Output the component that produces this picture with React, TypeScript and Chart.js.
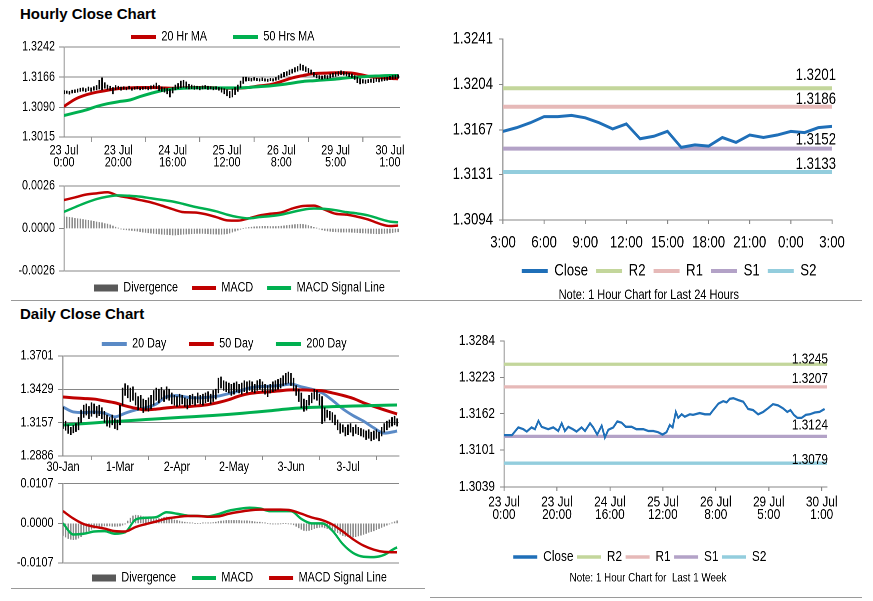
import React, { useEffect, useRef } from 'react';
import { Chart, registerables } from 'chart.js';

Chart.register(...registerables);

const FONT = "'Liberation Sans', Arial, sans-serif";
Chart.defaults.font.family = FONT;
Chart.defaults.color = '#000';

// ---------------- Hourly (last week) ----------------
const hourTickIdx = [0, 20, 40, 60, 80, 100, 120];
const hourTickLabels = [['23 Jul', '0:00'], ['23 Jul', '20:00'], ['24 Jul', '16:00'], ['25 Jul', '12:00'], ['26 Jul', '8:00'], ['29 Jul', '5:00'], ['30 Jul', '1:00']];

const hourlyLow = [
  1.3124, 1.3125, 1.3123, 1.3126, 1.3127, 1.3128, 1.3130, 1.3131, 1.3129, 1.3132,
  1.3130, 1.3133, 1.3134, 1.3136, 1.3134, 1.3138, 1.3135, 1.3133, 1.3124, 1.3134,
  1.3136, 1.3133, 1.3135, 1.3134, 1.3136, 1.3133, 1.3135, 1.3136, 1.3134, 1.3135,
  1.3136, 1.3134, 1.3136, 1.3138, 1.3137, 1.3132, 1.3130, 1.3128, 1.3124, 1.3116,
  1.3126, 1.3134, 1.3137, 1.3139, 1.3140, 1.3138, 1.3136, 1.3137, 1.3135, 1.3136,
  1.3134, 1.3136, 1.3137, 1.3135, 1.3136, 1.3134, 1.3135, 1.3133, 1.3128, 1.3124,
  1.3119, 1.3114, 1.3116, 1.3122, 1.3130, 1.3140, 1.3150, 1.3156, 1.3157, 1.3156,
  1.3158, 1.3157, 1.3156, 1.3157, 1.3156, 1.3155, 1.3157, 1.3156, 1.3158, 1.3160,
  1.3164, 1.3167, 1.3170, 1.3172, 1.3176, 1.3179, 1.3181, 1.3184, 1.3183, 1.3180,
  1.3177, 1.3174, 1.3168, 1.3164, 1.3162, 1.3161, 1.3163, 1.3162, 1.3164, 1.3166,
  1.3168, 1.3170, 1.3172, 1.3171, 1.3169, 1.3167, 1.3165, 1.3160, 1.3152, 1.3149,
  1.3151, 1.3150, 1.3152, 1.3153, 1.3152, 1.3155, 1.3154, 1.3156, 1.3157, 1.3158,
  1.3160, 1.3161, 1.3162, 1.3163,
];
const hourlyHigh = [
  1.3132, 1.3131, 1.3130, 1.3133, 1.3134, 1.3136, 1.3138, 1.3139, 1.3137, 1.3141,
  1.3139, 1.3142, 1.3145, 1.3158, 1.3164, 1.3152, 1.3146, 1.3143, 1.3140, 1.3145,
  1.3143, 1.3141, 1.3142, 1.3140, 1.3143, 1.3139, 1.3141, 1.3142, 1.3140, 1.3141,
  1.3142, 1.3141, 1.3144, 1.3146, 1.3151, 1.3145, 1.3141, 1.3139, 1.3137, 1.3135,
  1.3140, 1.3146, 1.3150, 1.3156, 1.3158, 1.3154, 1.3148, 1.3146, 1.3144, 1.3143,
  1.3142, 1.3144, 1.3145, 1.3143, 1.3142, 1.3141, 1.3142, 1.3140, 1.3139, 1.3137,
  1.3134, 1.3130, 1.3136, 1.3140, 1.3146, 1.3156, 1.3166, 1.3166, 1.3164, 1.3163,
  1.3165, 1.3163, 1.3162, 1.3164, 1.3162, 1.3161, 1.3163, 1.3162, 1.3165, 1.3170,
  1.3174, 1.3178, 1.3180, 1.3184, 1.3186, 1.3190, 1.3193, 1.3199, 1.3196, 1.3192,
  1.3188, 1.3184, 1.3178, 1.3172, 1.3170, 1.3169, 1.3171, 1.3170, 1.3174, 1.3176,
  1.3178, 1.3180, 1.3182, 1.3180, 1.3178, 1.3176, 1.3174, 1.3170, 1.3166, 1.3162,
  1.3160, 1.3159, 1.3160, 1.3161, 1.3162, 1.3163, 1.3162, 1.3164, 1.3165, 1.3166,
  1.3168, 1.3170, 1.3171, 1.3172,
];

const hourLineX = [0, 4, 8, 12, 16, 20, 24, 28, 32, 36, 40, 44, 48, 52, 56, 60, 64, 68, 72, 76, 80, 84, 88, 92, 96, 100, 104, 108, 112, 116, 120, 123];
const ma20Hr = [1.3092, 1.3110, 1.3121, 1.3128, 1.3133, 1.3137, 1.3139, 1.3140, 1.3140, 1.3139, 1.3138, 1.3139, 1.3140, 1.3140, 1.3139, 1.3138, 1.3138, 1.3140, 1.3144, 1.3147, 1.3155, 1.3164, 1.3170, 1.3175, 1.3176, 1.3177, 1.3177, 1.3174, 1.3168, 1.3165, 1.3163, 1.3162];
const ma50Hr = [1.3069, 1.3076, 1.3083, 1.3092, 1.3099, 1.3104, 1.3108, 1.3117, 1.3125, 1.3132, 1.3136, 1.3138, 1.3139, 1.3139, 1.3139, 1.3139, 1.3139, 1.3140, 1.3142, 1.3144, 1.3147, 1.3151, 1.3155, 1.3157, 1.3159, 1.3161, 1.3164, 1.3166, 1.3168, 1.3169, 1.3170, 1.3170];
const macdHour = [0.00174, 0.00190, 0.00207, 0.00215, 0.00222, 0.00200, 0.00188, 0.00174, 0.00160, 0.00140, 0.00118, 0.00100, 0.00098, 0.00088, 0.00070, 0.00050, 0.00048, 0.00062, 0.00080, 0.00090, 0.00098, 0.00122, 0.00138, 0.00140, 0.00115, 0.00090, 0.00085, 0.00072, 0.00055, 0.00030, 0.00015, 0.00018];
const signalHour = [0.00102, 0.00130, 0.00157, 0.00180, 0.00195, 0.00203, 0.00200, 0.00195, 0.00185, 0.00175, 0.00165, 0.00150, 0.00133, 0.00120, 0.00105, 0.00085, 0.00070, 0.00062, 0.00070, 0.00076, 0.00085, 0.00100, 0.00115, 0.00122, 0.00120, 0.00112, 0.00100, 0.00092, 0.00080, 0.00060, 0.00042, 0.00038];
const divergenceHour = [
  0.00072, 0.00070, 0.00068, 0.00066, 0.00062, 0.00060, 0.00058, 0.00055, 0.00052, 0.00050,
  0.00047, 0.00044, 0.00040, 0.00037, 0.00035, 0.00030, 0.00027, 0.00022, 0.00015, 0.00008,
  0.00002, -0.00003, -0.00006, -0.00008, -0.00010, -0.00012, -0.00014, -0.00016, -0.00019, -0.00022,
  -0.00024, -0.00026, -0.00028, -0.00030, -0.00032, -0.00033, -0.00035, -0.00036, -0.00037, -0.00038,
  -0.00040, -0.00040, -0.00038, -0.00036, -0.00035, -0.00034, -0.00033, -0.00032, -0.00031, -0.00030,
  -0.00030, -0.00030, -0.00031, -0.00032, -0.00033, -0.00034, -0.00034, -0.00035, -0.00035, -0.00034,
  -0.00032, -0.00028, -0.00022, -0.00016, -0.00010, -0.00005, 0.00000, 0.00003, 0.00006, 0.00008,
  0.00010, 0.00011, 0.00012, 0.00013, 0.00013, 0.00013, 0.00012, 0.00012, 0.00012, 0.00013,
  0.00014, 0.00016, 0.00018, 0.00020, 0.00022, 0.00024, 0.00025, 0.00026, 0.00025, 0.00022,
  0.00018, 0.00013, 0.00007, 0.00002, -0.00003, -0.00008, -0.00012, -0.00015, -0.00017, -0.00019,
  -0.00020, -0.00021, -0.00022, -0.00022, -0.00022, -0.00022, -0.00023, -0.00024, -0.00025, -0.00026,
  -0.00027, -0.00028, -0.00029, -0.00030, -0.00031, -0.00032, -0.00032, -0.00031, -0.00030, -0.00029,
  -0.00027, -0.00025, -0.00022, -0.00020,
];

// ---------------- Daily ----------------
const dayTickIdx = [0, 22, 44, 66, 88, 110];
const dayTickLabels = ['30-Jan', '1-Mar', '2-Apr', '2-May', '3-Jun', '3-Jul'];

const dailyLow = [
  1.3110, 1.3095, 1.3070, 1.3060, 1.3075, 1.3085, 1.3100, 1.3160, 1.3200, 1.3220,
  1.3190, 1.3210, 1.3230, 1.3200, 1.3215, 1.3190, 1.3160, 1.3130, 1.3120, 1.3140,
  1.3110, 1.3100, 1.3140, 1.3300, 1.3380, 1.3360, 1.3330, 1.3340, 1.3300, 1.3260,
  1.3280, 1.3240, 1.3260, 1.3250, 1.3270, 1.3300, 1.3340, 1.3320, 1.3350, 1.3330,
  1.3350, 1.3340, 1.3310, 1.3300, 1.3290, 1.3300, 1.3310, 1.3290, 1.3270, 1.3300,
  1.3310, 1.3300, 1.3320, 1.3310, 1.3300, 1.3320, 1.3330, 1.3310, 1.3330, 1.3350,
  1.3400, 1.3440, 1.3420, 1.3410, 1.3400, 1.3380, 1.3390, 1.3410, 1.3400, 1.3390,
  1.3410, 1.3400, 1.3420, 1.3410, 1.3400, 1.3420, 1.3430, 1.3410, 1.3390, 1.3370,
  1.3400, 1.3410, 1.3420, 1.3430, 1.3440, 1.3460, 1.3470, 1.3480, 1.3460, 1.3420,
  1.3380, 1.3330, 1.3280, 1.3250, 1.3260, 1.3300, 1.3320, 1.3350, 1.3340, 1.3300,
  1.3150, 1.3170, 1.3200, 1.3180, 1.3160, 1.3140, 1.3100, 1.3070, 1.3080, 1.3050,
  1.3060, 1.3080, 1.3050, 1.3070, 1.3060, 1.3050, 1.3040, 1.3020, 1.3030, 1.3010,
  1.3020, 1.3030, 1.3010, 1.3050, 1.3080, 1.3100, 1.3120, 1.3130, 1.3140, 1.3130,
];
const dailyHigh = [
  1.3285, 1.3170, 1.3140, 1.3120, 1.3135, 1.3150, 1.3200, 1.3260, 1.3300, 1.3310,
  1.3290, 1.3320, 1.3310, 1.3290, 1.3300, 1.3280, 1.3250, 1.3220, 1.3200, 1.3220,
  1.3190, 1.3180, 1.3300, 1.3440, 1.3475, 1.3460, 1.3440, 1.3450, 1.3400, 1.3370,
  1.3380, 1.3350, 1.3340, 1.3360, 1.3380, 1.3420, 1.3440, 1.3430, 1.3445, 1.3420,
  1.3450, 1.3430, 1.3400, 1.3380, 1.3370, 1.3390, 1.3380, 1.3360, 1.3350, 1.3380,
  1.3390, 1.3370, 1.3400, 1.3380, 1.3390, 1.3400, 1.3410, 1.3390, 1.3420, 1.3430,
  1.3520, 1.3530, 1.3500, 1.3490, 1.3480, 1.3470, 1.3480, 1.3490, 1.3470, 1.3480,
  1.3500, 1.3490, 1.3500, 1.3490, 1.3470, 1.3500, 1.3510, 1.3490, 1.3470, 1.3460,
  1.3470, 1.3490, 1.3500, 1.3510, 1.3520, 1.3540, 1.3560, 1.3570, 1.3560, 1.3520,
  1.3460, 1.3430, 1.3400, 1.3350, 1.3340, 1.3380, 1.3400, 1.3430, 1.3420, 1.3390,
  1.3370, 1.3280, 1.3260, 1.3250, 1.3240, 1.3220, 1.3180, 1.3150, 1.3140, 1.3120,
  1.3140, 1.3150, 1.3120, 1.3140, 1.3120, 1.3110, 1.3100, 1.3090, 1.3100, 1.3080,
  1.3090, 1.3100, 1.3080, 1.3120, 1.3150, 1.3170, 1.3180, 1.3200, 1.3210, 1.3190,
];

const dayLineX = [0, 4, 8, 12, 16, 20, 24, 28, 32, 36, 40, 44, 48, 52, 56, 60, 64, 68, 72, 76, 80, 84, 88, 92, 96, 100, 104, 108, 112, 116, 120, 124, 128, 129];
const ma20Day = [1.3285, 1.3245, 1.3240, 1.3245, 1.3235, 1.3205, 1.3235, 1.3262, 1.3280, 1.3310, 1.3370, 1.3378, 1.3365, 1.3360, 1.3365, 1.3375, 1.3395, 1.3415, 1.3440, 1.3452, 1.3455, 1.3462, 1.3472, 1.3450, 1.3430, 1.3400, 1.3340, 1.3270, 1.3215, 1.3170, 1.3115, 1.3072, 1.3085, 1.3090];
const ma50Day = [1.3367, 1.3360, 1.3355, 1.3350, 1.3335, 1.3320, 1.3295, 1.3275, 1.3262, 1.3268, 1.3278, 1.3285, 1.3288, 1.3295, 1.3305, 1.3322, 1.3345, 1.3375, 1.3395, 1.3405, 1.3410, 1.3418, 1.3425, 1.3425, 1.3422, 1.3418, 1.3400, 1.3380, 1.3355, 1.3320, 1.3290, 1.3262, 1.3235, 1.3228];
const ma200DayX = [0, 8, 16, 24, 32, 40, 48, 56, 64, 72, 80, 88, 96, 104, 112, 120, 129];
const ma200Day = [1.3139, 1.3150, 1.3162, 1.3172, 1.3183, 1.3194, 1.3204, 1.3214, 1.3225, 1.3240, 1.3255, 1.3272, 1.3282, 1.3288, 1.3293, 1.3298, 1.3302];
const macdDay = [0.0000, -0.0030, -0.0028, -0.0022, -0.0021, -0.0028, -0.0024, 0.0010, 0.0015, 0.0017, 0.0030, 0.0026, 0.0021, 0.0020, 0.0019, 0.0025, 0.0034, 0.0039, 0.0042, 0.0040, 0.0033, 0.0033, 0.0033, 0.0012, 0.0000, 0.0000, -0.0020, -0.0056, -0.0080, -0.0090, -0.0091, -0.0085, -0.0068, -0.0065];
const signalDay = [0.0033, 0.0013, -0.0002, -0.0009, -0.0014, -0.0021, -0.0022, -0.0010, -0.0002, 0.0005, 0.0013, 0.0017, 0.0020, 0.0020, 0.0018, 0.0019, 0.0026, 0.0031, 0.0035, 0.0037, 0.0037, 0.0037, 0.0035, 0.0026, 0.0016, 0.0009, -0.0003, -0.0022, -0.0043, -0.0060, -0.0071, -0.0077, -0.0078, -0.0078];
const divergenceDay = [
  -0.0033, -0.0037, -0.0041, -0.0043, -0.0044, -0.0043, -0.0040, -0.0036, -0.0030, -0.0025,
  -0.0020, -0.0016, -0.0013, -0.0011, -0.0009, -0.0008, -0.0007, -0.0007, -0.0007, -0.0008,
  -0.0008, -0.0008, -0.0007, -0.0005, -0.0002, 0.0006, 0.0014, 0.0020, 0.0022, 0.0021,
  0.0020, 0.0018, 0.0017, 0.0015, 0.0013, 0.0012, 0.0012, 0.0013, 0.0014, 0.0016,
  0.0017, 0.0014, 0.0011, 0.0009, 0.0008, 0.0006, 0.0004, 0.0003, 0.0002, 0.0001,
  0.0001, 0.0000, 0.0000, 0.0000, 0.0001, 0.0001, 0.0001, 0.0001, 0.0002, 0.0003,
  0.0005, 0.0006, 0.0007, 0.0008, 0.0008, 0.0008, 0.0008, 0.0008, 0.0008, 0.0007,
  0.0007, 0.0007, 0.0006, 0.0005, 0.0004, 0.0003, 0.0003, 0.0002, 0.0001, 0.0000,
  -0.0001, -0.0002, -0.0002, -0.0002, -0.0001, 0.0000, 0.0000, -0.0001, -0.0002, -0.0004,
  -0.0008, -0.0012, -0.0016, -0.0019, -0.0020, -0.0019, -0.0017, -0.0014, -0.0012, -0.0011,
  -0.0010, -0.0012, -0.0014, -0.0016, -0.0018, -0.0021, -0.0025, -0.0029, -0.0033, -0.0035,
  -0.0036, -0.0037, -0.0037, -0.0036, -0.0034, -0.0032, -0.0030, -0.0027, -0.0024, -0.0022,
  -0.0020, -0.0017, -0.0014, -0.0011, -0.0008, -0.0005, -0.0002, 0.0001, 0.0004, 0.0007,
];

// ---------------- Last 24 hours ----------------
const lastDayTickIdx = [0, 3, 6, 9, 12, 15, 18, 21, 24];
const lastDayTickLabels = ['3:00', '6:00', '9:00', '12:00', '15:00', '18:00', '21:00', '0:00', '3:00'];
const lastDayX = [0, 1, 2, 3, 4, 5, 6, 7, 8, 9, 10, 11, 12, 13, 14, 15, 16, 17, 18, 19, 20, 21, 22, 23, 24];
const lastDayClose = [1.3166, 1.3169, 1.3173, 1.3178, 1.3178, 1.3179, 1.3177, 1.3173, 1.3168, 1.3172, 1.3160, 1.3162, 1.3166, 1.3153, 1.3155, 1.3154, 1.3161, 1.3157, 1.3163, 1.3161, 1.3163, 1.3166, 1.3165, 1.3169, 1.3170];
const levelNames = ['R2', 'R1', 'S1', 'S2'];
const lastDayLevels = [1.3201, 1.3186, 1.3152, 1.3133];

// ---------------- Last week (hourly close) ----------------
const weekX = [0, 3, 5.4, 7.3, 8.6, 10.4, 11.7, 13, 14.2, 16.7, 18.6, 20.5, 21.8, 23, 24.3, 26, 27.4, 29.3, 30.6, 32.5, 33.7, 35.2, 36.9, 38.1, 39.4, 41.3, 42.8, 44.4, 46, 48.2, 50, 52.6, 54.5, 56.4, 58.2, 59.9, 61.4, 62.6, 63.7, 64.9, 65.8, 67.1, 68.3, 70.2, 71.4, 73.9, 75.9, 77.8, 79, 81, 82.8, 84.1, 85.3, 86.6, 88.4, 90.4, 92.2, 94.1, 96, 97.9, 99.7, 101.6, 103.5, 105.4, 107, 108.2, 109.5, 110.8, 112.4, 114, 115.5, 117.4, 119.2, 121.1];
const weekClose = [1.3126, 1.3126, 1.3139, 1.3136, 1.3132, 1.3139, 1.3136, 1.3150, 1.3140, 1.3136, 1.3139, 1.3133, 1.3146, 1.3133, 1.3140, 1.3136, 1.3132, 1.3139, 1.3133, 1.3146, 1.3139, 1.3127, 1.3142, 1.3122, 1.3135, 1.3139, 1.3149, 1.3147, 1.3140, 1.3140, 1.3136, 1.3136, 1.3133, 1.3133, 1.3131, 1.3127, 1.3131, 1.3143, 1.3139, 1.3165, 1.3155, 1.3161, 1.3157, 1.3161, 1.3160, 1.3163, 1.3161, 1.3161, 1.3168, 1.3179, 1.3183, 1.3181, 1.3187, 1.3188, 1.3185, 1.3182, 1.3170, 1.3168, 1.3161, 1.3165, 1.3171, 1.3178, 1.3176, 1.3171, 1.3165, 1.3168, 1.3160, 1.3155, 1.3155, 1.3160, 1.3161, 1.3164, 1.3165, 1.3170];
const weekLevels = [1.3245, 1.3207, 1.3124, 1.3079];

// ---------------- styling ----------------
// Charts are drawn in a horizontally stretched space and squeezed back by K,
// which gives the narrow lettering of the original.
const K = 0.8;
const sx = (v: number) => v / K;

const GRID = '#868686';
const RED = '#c00000';
const GREEN = '#00b050';
const BLUE20 = '#5a8ac6';
const CLOSE_BLUE = '#1f6fb8';
const LEVEL_COLORS = ['#c3d69b', '#e6b9b8', '#b3a2c7', '#93cddd'];

const FS_LEFT = 13.5;
const FS_DAY = 16.5;
const FS_WEEK = 14.8;
const NOTE_DAY = 13.8;
const NOTE_WEEK = 12.3;

const placer: any = {
  id: 'placer',
  beforeDraw(chart: any, _a: any, o: any) {
    const lg = chart.legend;
    if (lg && o.legendX != null) {
      const p = lg.options.labels.padding;
      const fs = o.legendFont;
      lg.left = o.legendX - p;
      lg.right = lg.left + 2000;
      lg.top = o.legendY - p - fs / 2;
      lg.bottom = lg.top + fs + 2 * p;
      lg.width = lg.right - lg.left;
      lg.height = lg.bottom - lg.top;
    }
    const tb = chart.titleBlock;
    if (tb && o.noteX != null) {
      const lh = o.noteFont * 1.2;
      tb.left = o.noteX - 500;
      tb.right = o.noteX + 500;
      tb.top = o.noteY - lh / 2;
      tb.bottom = tb.top + lh;
    }
  },
};

const levelLabels: any = {
  id: 'levelLabels',
  afterDatasetsDraw(chart: any, _a: any, o: any) {
    if (!o || !o.offsets) return;
    const ctx = chart.ctx;
    ctx.save();
    ctx.font = `${o.fontSize}px ${FONT}`;
    ctx.fillStyle = '#000';
    ctx.textAlign = 'right';
    ctx.textBaseline = 'middle';
    chart.data.datasets.forEach((ds: any, i: number) => {
      if (ds.levelIndex == null) return;
      const meta = chart.getDatasetMeta(i);
      const pt = meta.data[meta.data.length - 1];
      const v = ds.data[ds.data.length - 1].y;
      ctx.fillText(v.toFixed(4), chart.chartArea.right + o.dx, pt.y - o.offsets[ds.levelIndex]);
    });
    ctx.restore();
  },
};

function yAxis(o: any) {
  return {
    type: 'linear',
    min: o.min,
    max: o.max,
    afterBuildTicks: (s: any) => { s.ticks = o.ticks.map((v: number) => ({ value: v })); },
    ticks: { callback: (v: any) => Number(v).toFixed(4), font: { size: o.fontSize }, color: '#000', padding: sx(o.pad), autoSkip: false },
    grid: {
      display: true,
      drawOnChartArea: o.gridOn,
      color: (c: any) => (o.hideZero && c.tick && c.tick.value === 0 ? 'rgba(0,0,0,0)' : GRID),
      tickColor: GRID,
      tickLength: sx(o.tickLen),
      lineWidth: 1,
    },
    border: { display: true, color: GRID, width: sx(1) },
  };
}

function xAxis(o: any) {
  return {
    type: 'linear',
    min: 0,
    max: o.max,
    offset: false,
    afterBuildTicks: (s: any) => { s.ticks = o.ticks.map((v: number) => ({ value: v })); },
    afterFit: (s: any) => { s.height = o.height; },
    ticks: { callback: (_v: any, i: number) => o.labels[i], autoSkip: false, maxRotation: 0, minRotation: 0, font: { size: o.fontSize, lineHeight: o.lineHeight }, color: '#000', padding: o.pad },
    grid: { display: true, drawOnChartArea: false, color: GRID, lineWidth: sx(1), tickLength: o.tickLen },
    border: { display: true, color: GRID, width: 1 },
  };
}

function hiddenX(max: number) {
  return { type: 'linear', display: false, min: 0, max, offset: false };
}

function legendOpts(fontSize: number, boxH: number, padding: number, boxW: number) {
  return {
    display: true,
    position: 'bottom',
    fullSize: false,
    align: 'start',
    maxHeight: 0.01,
    labels: {
      usePointStyle: true,
      pointStyleWidth: sx(boxW),
      boxHeight: boxH,
      padding: sx(padding),
      color: '#000',
      font: { size: fontSize },
      generateLabels: (chart: any) =>
        chart.data.datasets
          .map((ds: any, i: number) =>
            ds.legendKind
              ? {
                  text: ds.label,
                  fillStyle: ds.legendColor,
                  strokeStyle: ds.legendColor,
                  lineWidth: ds.legendKind === 'rect' ? 0 : ds.legendWidth,
                  pointStyle: ds.legendKind === 'rect' ? 'rect' : 'line',
                  hidden: false,
                  datasetIndex: i,
                  fontColor: '#000',
                  lineCap: 'butt',
                  lineDash: [],
                  lineDashOffset: 0,
                  lineJoin: 'miter',
                  rotation: 0,
                }
              : null
          )
          .filter(Boolean),
    },
  };
}

// pos: screen box; area: screen left/right of plot area relative to pos.left
function baseOptions(pos: any, area: any, o: any) {
  const cw = Math.round(sx(pos.width));
  return {
    responsive: false,
    maintainAspectRatio: false,
    animation: false,
    devicePixelRatio: 2,
    events: [],
    layout: { padding: { left: 0, right: cw - sx(area.right), top: o.top, bottom: o.bottom }, autoPadding: false },
    scales: { x: o.x, y: { ...o.y, afterFit: (s: any) => { s.width = sx(area.left); } } },
    plugins: {
      legend: o.legend,
      title: o.note
        ? { display: true, position: 'bottom', text: o.note.text, font: { size: o.note.size, lineHeight: 1.2, weight: 'normal' }, padding: 0, color: '#000' }
        : { display: false },
      tooltip: { enabled: false },
      placer: {
        legendX: sx(o.legendX),
        legendY: o.legendY,
        legendFont: o.legendFont,
        noteX: o.note ? sx(o.note.x) : undefined,
        noteY: o.note ? o.note.y : undefined,
        noteFont: o.note ? o.note.size : undefined,
      },
      levelLabels: o.levels ? { ...o.levels, dx: sx(o.levels.dx) } : {},
    },
  };
}

function lineDs(label: string, xs: number[], ys: number[], color: string, width: number, order: number, legendWidth: number, smooth = true) {
  return {
    type: 'line',
    label,
    data: xs.map((x, i) => ({ x, y: ys[i] })),
    borderColor: color,
    backgroundColor: color,
    borderWidth: width,
    pointRadius: 0,
    cubicInterpolationMode: smooth ? 'monotone' : 'default',
    tension: 0,
    fill: false,
    order,
    legendKind: 'line',
    legendColor: color,
    legendWidth,
  };
}

function hiLoDs(lows: number[], highs: number[]) {
  return {
    type: 'bar',
    label: 'High/Low',
    data: lows.map((lo, i) => ({ x: i, y: [lo, highs[i]] })),
    backgroundColor: '#000',
    barThickness: sx(1.05),
    grouped: false,
    order: 0,
  };
}

function divergenceDs(vals: number[]) {
  return {
    type: 'bar',
    label: 'Divergence',
    data: vals.map((v, i) => ({ x: i, y: v })),
    backgroundColor: '#8a8a8a',
    barThickness: sx(0.9),
    grouped: false,
    order: 3,
    legendKind: 'rect',
    legendColor: '#595959',
  };
}

function levelDs(idx: number, value: number, xMax: number, width: number, legendWidth: number) {
  return {
    type: 'line',
    label: levelNames[idx],
    data: [{ x: 0, y: value }, { x: xMax, y: value }],
    borderColor: LEVEL_COLORS[idx],
    backgroundColor: LEVEL_COLORS[idx],
    borderWidth: width,
    pointRadius: 0,
    fill: false,
    order: 1,
    legendKind: 'line',
    legendColor: LEVEL_COLORS[idx],
    legendWidth,
    levelIndex: idx,
  };
}

// ---------------- panel configs ----------------
const P1 = { left: 0, top: 0, width: 430, height: 175 };
function cfgHourlyPrice() {
  return {
    type: 'line',
    data: { datasets: [hiLoDs(hourlyLow, hourlyHigh), lineDs('20 Hr MA', hourLineX, ma20Hr, RED, 3, 2, 4), lineDs('50 Hrs MA', hourLineX, ma50Hr, GREEN, 3, 1, 4)] },
    options: baseOptions(P1, { left: 64, right: 400 }, {
      top: 47, bottom: 0,
      x: xAxis({ max: 123.7, ticks: hourTickIdx, labels: hourTickLabels, fontSize: FS_LEFT, lineHeight: 0.9, tickLen: 5, pad: 2.5, height: 175 - 137 - 0.01 }),
      y: yAxis({ min: 1.3015, max: 1.3242, ticks: [1.3015, 1.309, 1.3166, 1.3242], fontSize: FS_LEFT, tickLen: 5, pad: 4, gridOn: true }),
      legend: legendOpts(FS_LEFT, 4, 26, 25),
      legendX: 131, legendY: 37, legendFont: FS_LEFT,
    }),
    plugins: [placer, levelLabels],
  };
}

const P2 = { left: 0, top: 170, width: 430, height: 130 };
function cfgHourlyMacd() {
  return {
    type: 'line',
    data: { datasets: [divergenceDs(divergenceHour), lineDs('MACD', hourLineX, macdHour, RED, 2.5, 2, 4), lineDs('MACD Signal Line', hourLineX, signalHour, GREEN, 2.5, 1, 4)] },
    options: baseOptions(P2, { left: 64, right: 400 }, {
      top: 16, bottom: 130 - 101 - 0.01,
      x: hiddenX(123.7),
      y: yAxis({ min: -0.0026, max: 0.0026, ticks: [-0.0026, 0, 0.0026], fontSize: FS_LEFT, tickLen: 5, pad: 4, gridOn: true, hideZero: true }),
      legend: legendOpts(FS_LEFT, 7, 14, 24),
      legendX: 94, legendY: 118, legendFont: FS_LEFT,
    }),
    plugins: [placer, levelLabels],
  };
}

const P3 = { left: 430, top: 20, width: 443, height: 285 };
function cfgLastDay() {
  return {
    type: 'line',
    data: {
      datasets: [
        lineDs('Close', lastDayX, lastDayClose, CLOSE_BLUE, 3, 0, 4, false),
        ...lastDayLevels.map((v, i) => levelDs(i, v, 24, 4, 4)),
      ],
    },
    options: baseOptions(P3, { left: 73, right: 402 }, {
      top: 19, bottom: 0,
      x: xAxis({ max: 24, ticks: lastDayTickIdx, labels: lastDayTickLabels, fontSize: FS_DAY, lineHeight: 1.2, tickLen: 4, pad: 9, height: 285 - 200 - NOTE_DAY * 1.2 - 0.01 }),
      y: yAxis({ min: 1.3094, max: 1.3241, ticks: [1.3094, 1.3131, 1.3167, 1.3204, 1.3241], fontSize: FS_DAY, tickLen: 4, pad: 6, gridOn: false }),
      legend: legendOpts(FS_DAY, 4, 8, 26),
      legendX: 91.7, legendY: 251, legendFont: FS_DAY,
      note: { text: 'Note: 1 Hour Chart for Last 24 Hours', size: NOTE_DAY, x: 218.8, y: 275 },
      levels: { fontSize: FS_DAY, dx: 4, offsets: [13, 7.4, 8.6, 7.7] },
    }),
    plugins: [placer, levelLabels],
  };
}

const P4 = { left: 0, top: 300, width: 430, height: 180 };
function cfgDailyPrice() {
  return {
    type: 'line',
    data: {
      datasets: [
        hiLoDs(dailyLow, dailyHigh),
        lineDs('20 Day', dayLineX, ma20Day, BLUE20, 3, 3, 4),
        lineDs('50 Day', dayLineX, ma50Day, RED, 3, 2, 4),
        lineDs('200 Day', ma200DayX, ma200Day, GREEN, 3, 1, 4),
      ],
    },
    options: baseOptions(P4, { left: 63, right: 399 }, {
      top: 56, bottom: 0,
      x: xAxis({ max: 129.7, ticks: dayTickIdx, labels: dayTickLabels, fontSize: FS_LEFT, lineHeight: 1, tickLen: 4, pad: 0.5, height: 180 - 156 - 0.01 }),
      y: yAxis({ min: 1.2886, max: 1.3701, ticks: [1.2886, 1.3157, 1.3429, 1.3701], fontSize: FS_LEFT, tickLen: 5, pad: 4.5, gridOn: true }),
      legend: legendOpts(FS_LEFT, 4, 22.5, 25),
      legendX: 101.7, legendY: 44, legendFont: FS_LEFT,
    }),
    plugins: [placer, levelLabels],
  };
}

const P5 = { left: 0, top: 470, width: 430, height: 120 };
function cfgDailyMacd() {
  return {
    type: 'line',
    data: { datasets: [divergenceDs(divergenceDay), lineDs('MACD', dayLineX, macdDay, GREEN, 2.5, 2, 4), lineDs('MACD Signal Line', dayLineX, signalDay, RED, 2.5, 1, 4)] },
    options: baseOptions(P5, { left: 63, right: 399 }, {
      top: 13, bottom: 120 - 93 - 0.01,
      x: hiddenX(129.7),
      y: yAxis({ min: -0.0107, max: 0.0107, ticks: [-0.0107, 0, 0.0107], fontSize: FS_LEFT, tickLen: 5, pad: 4.5, gridOn: true, hideZero: true }),
      legend: legendOpts(FS_LEFT, 7, 16, 24),
      legendX: 92, legendY: 108, legendFont: FS_LEFT,
    }),
    plugins: [placer, levelLabels],
  };
}

const P6 = { left: 430, top: 320, width: 443, height: 270 };
function cfgWeek() {
  return {
    type: 'line',
    data: {
      datasets: [
        lineDs('Close', weekX, weekClose, CLOSE_BLUE, 2.3, 0, 3.5, false),
        ...weekLevels.map((v, i) => levelDs(i, v, 122, 3.3, 3.5)),
      ],
    },
    options: baseOptions(P6, { left: 74, right: 397 }, {
      top: 21, bottom: 0,
      x: xAxis({ max: 122, ticks: hourTickIdx, labels: hourTickLabels, fontSize: FS_WEEK, lineHeight: 0.86, tickLen: 4, pad: 5, height: 270 - 167 - NOTE_WEEK * 1.2 - 0.01 }),
      y: yAxis({ min: 1.3039, max: 1.3284, ticks: [1.3039, 1.3101, 1.3162, 1.3223, 1.3284], fontSize: FS_WEEK, tickLen: 4, pad: 5, gridOn: false }),
      legend: legendOpts(FS_WEEK, 4, 3.5, 24),
      legendX: 83.3, legendY: 237, legendFont: FS_WEEK,
      note: { text: 'Note: 1 Hour Chart for  Last 1 Week', size: NOTE_WEEK, x: 218, y: 258 },
      levels: { fontSize: FS_WEEK, dx: 1, offsets: [5, 8, 11, 3.3] },
    }),
    plugins: [placer, levelLabels],
  };
}

function ChartBox({ pos, make }: { pos: any; make: () => any }) {
  const ref = useRef<HTMLCanvasElement>(null);
  const cw = Math.round(sx(pos.width));
  useEffect(() => {
    const chart = new Chart(ref.current as HTMLCanvasElement, make());
    return () => chart.destroy();
  }, []);
  return (
    <div
      style={{
        position: 'absolute',
        left: pos.left,
        top: pos.top,
        width: cw,
        height: pos.height,
        transform: `scaleX(${K})`,
        transformOrigin: '0 0',
      }}
    >
      <canvas ref={ref} width={cw} height={pos.height} style={{ display: 'block', width: cw, height: pos.height }} />
    </div>
  );
}

const titleStyle: any = {
  position: 'absolute',
  left: 20,
  fontFamily: "'Liberation Sans', Arial, sans-serif",
  fontWeight: 'bold',
  fontSize: 15,
  lineHeight: '15px',
  color: '#000',
  whiteSpace: 'nowrap',
};

export default function App() {
  return (
    <div style={{ position: 'absolute', left: 0, top: 0, width: 873, height: 601, background: '#fff', overflow: 'hidden' }}>
      <div style={{ ...titleStyle, top: 5.5 }}>Hourly Close Chart</div>
      <div style={{ ...titleStyle, top: 305.5 }}>Daily Close Chart</div>
      <div style={{ position: 'absolute', left: 11, top: 300, width: 851, height: 1, background: '#9a9a9a' }} />
      <div style={{ position: 'absolute', left: 11, top: 588, width: 414, height: 1, background: '#9a9a9a' }} />
      <div style={{ position: 'absolute', left: 430, top: 597, width: 432, height: 1, background: '#9a9a9a' }} />
      <ChartBox pos={P1} make={cfgHourlyPrice} />
      <ChartBox pos={P2} make={cfgHourlyMacd} />
      <ChartBox pos={P3} make={cfgLastDay} />
      <ChartBox pos={P4} make={cfgDailyPrice} />
      <ChartBox pos={P5} make={cfgDailyMacd} />
      <ChartBox pos={P6} make={cfgWeek} />
    </div>
  );
}
